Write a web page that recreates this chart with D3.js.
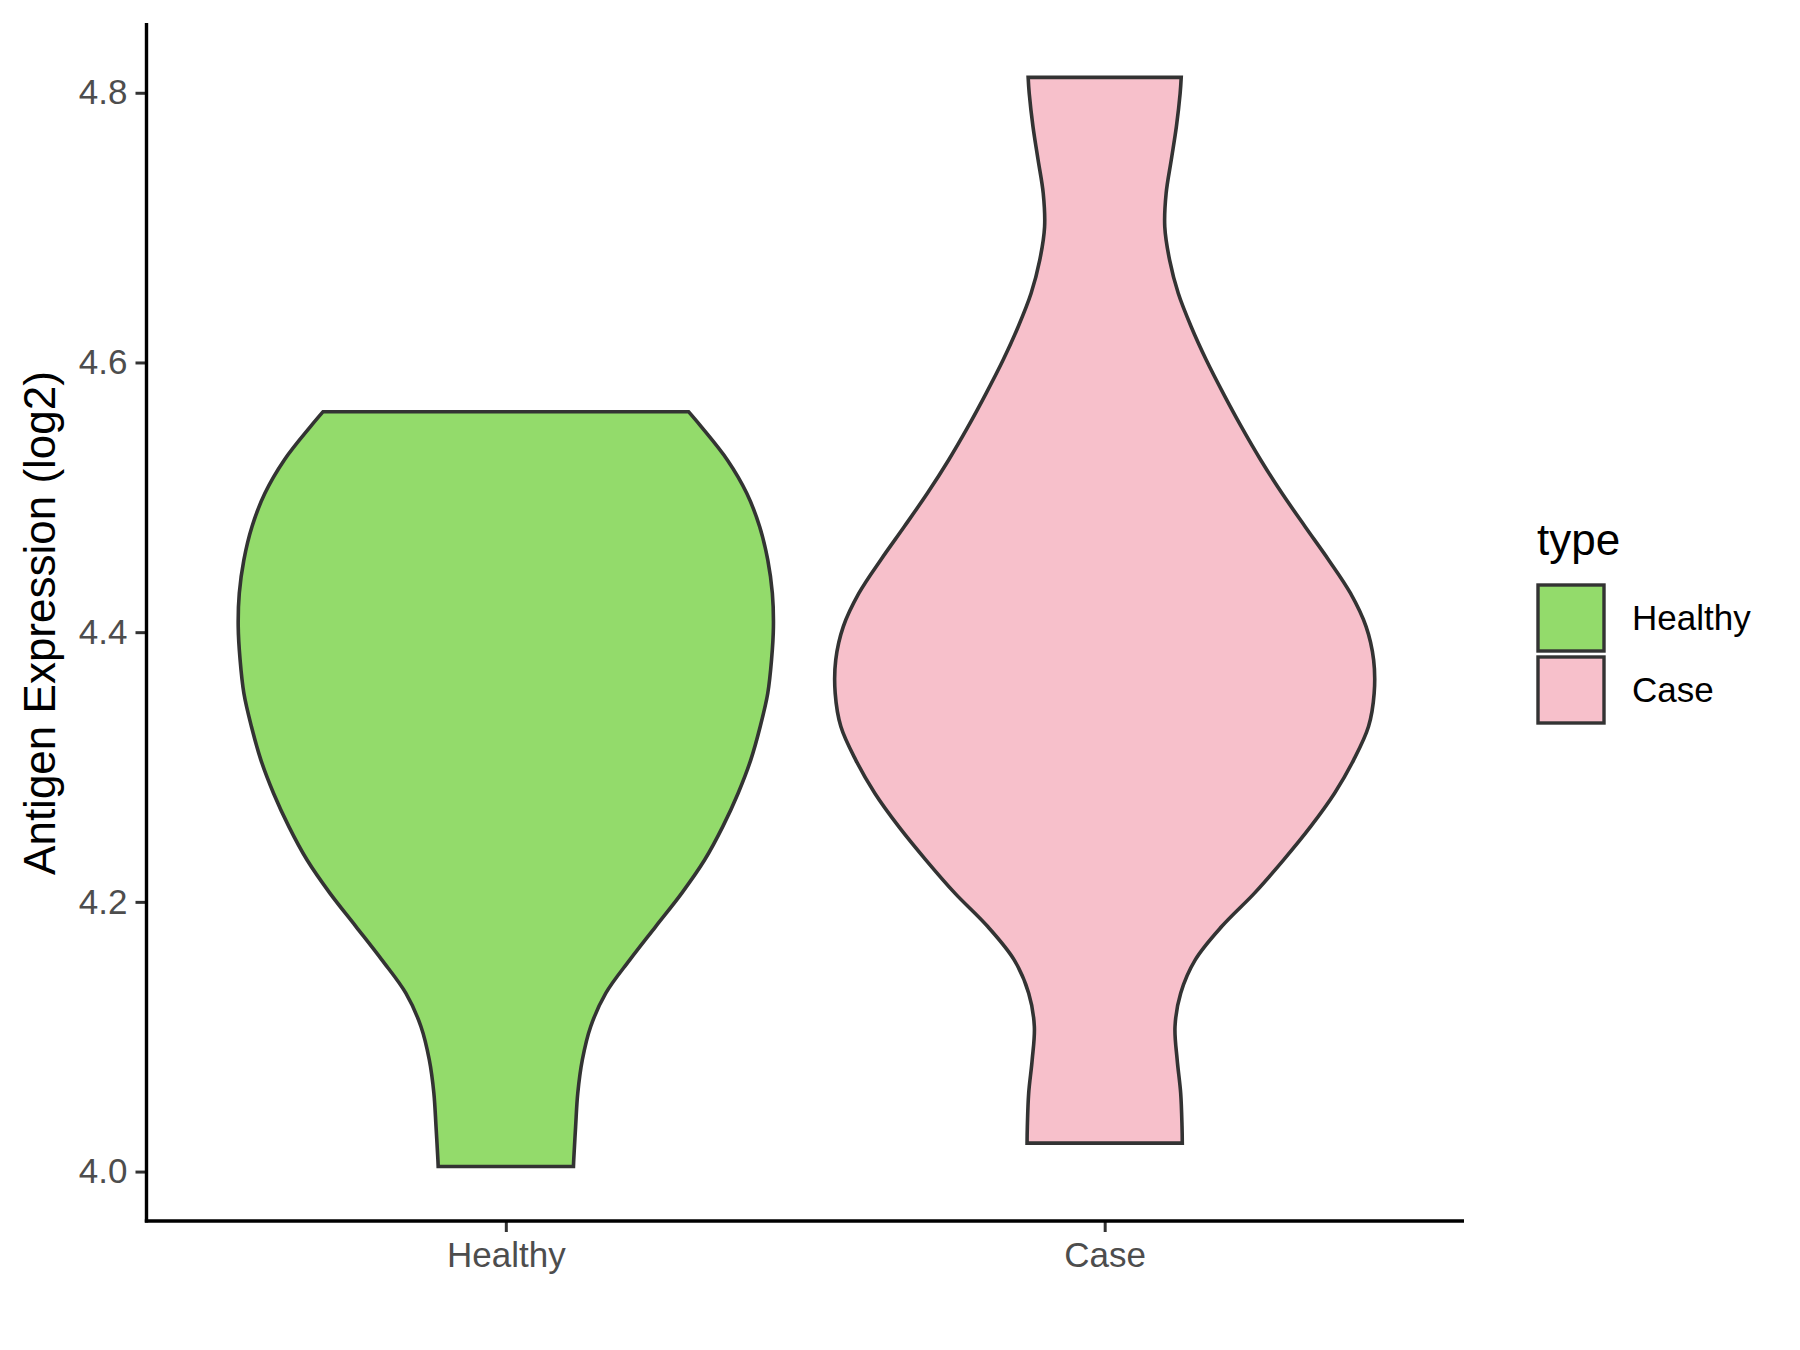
<!DOCTYPE html>
<html>
<head>
<meta charset="utf-8">
<script src="https://cdn.jsdelivr.net/npm/d3@7"></script>
<style>
  html, body { margin: 0; padding: 0; background: #ffffff; }
  svg { display: block; }
  text { font-family: "Liberation Sans", Arial, sans-serif; }
</style>
</head>
<body>
<svg id="chart" width="1800" height="1350"></svg>
<script>
// ---- Data ----
const categories = ["Healthy", "Case"];
const fillColors = ["#93DB6B", "#F7C0CB"];
const yTicks = [4.0, 4.2, 4.4, 4.6, 4.8];
const yTickLabels = ["4.0", "4.2", "4.4", "4.6", "4.8"];
const yLabel = "Antigen Expression (log2)";
const legendTitle = "type";

// Violin outline: expression values and relative density (max = 1)
const healthyValues  = [4.5635, 4.5524, 4.5277, 4.5030, 4.4782, 4.4536, 4.4289, 4.4041, 4.3794, 4.3547, 4.3300, 4.3053, 4.2806, 4.2558, 4.2312, 4.2065, 4.1817, 4.1570, 4.1323, 4.1076, 4.0829, 4.0582, 4.0334, 4.0087, 4.0038];
const healthyDensity = [0.678, 0.725, 0.822, 0.894, 0.942, 0.972, 0.989, 0.993, 0.986, 0.972, 0.944, 0.909, 0.862, 0.805, 0.738, 0.653, 0.556, 0.460, 0.371, 0.315, 0.284, 0.267, 0.259, 0.252, 0.251];

const caseValues  = [4.8114, 4.7995, 4.7748, 4.7501, 4.7254, 4.7006, 4.6759, 4.6513, 4.6265, 4.6018, 4.5771, 4.5524, 4.5277, 4.5030, 4.4782, 4.4536, 4.4289, 4.4041, 4.3794, 4.3547, 4.3300, 4.3053, 4.2806, 4.2558, 4.2312, 4.2065, 4.1817, 4.1570, 4.1323, 4.1076, 4.0829, 4.0582, 4.0334, 4.0211];
const caseDensity = [0.284, 0.280, 0.266, 0.247, 0.228, 0.223, 0.241, 0.273, 0.321, 0.377, 0.440, 0.507, 0.579, 0.658, 0.744, 0.831, 0.912, 0.970, 0.998, 1.000, 0.979, 0.924, 0.853, 0.764, 0.664, 0.556, 0.434, 0.336, 0.282, 0.261, 0.269, 0.282, 0.287, 0.288];

const valuesList = [healthyValues, caseValues];
const densityList = [healthyDensity, caseDensity];

// ---- Layout ----
const panel = { left: 146.5, right: 1464, top: 24, bottom: 1222 };
const svg = d3.select("#chart");

const x = d3.scalePoint().domain(categories).range([panel.left, panel.right]).padding(0.6);
const y = d3.scaleLinear().domain([3.9626, 4.851]).range([panel.bottom, panel.top]);
const w = d3.scaleLinear().domain([0, 1]).range([0, x.step() * 0.45]);

// ---- Violins ----
categories.forEach((cat, i) => {
  const pts = valuesList[i].map((v, j) => ({ v: v, d: densityList[i][j] }));
  const cx = x(cat);
  const area = d3.area()
    .y(p => y(p.v))
    .x0(p => cx - w(p.d))
    .x1(p => cx + w(p.d))
    .curve(d3.curveCatmullRom.alpha(0.5));
  svg.append("path")
    .datum(pts)
    .attr("d", area)
    .attr("fill", fillColors[i])
    .attr("stroke", "#333333")
    .attr("stroke-width", 3.6)
    .attr("stroke-linejoin", "miter");
});

// ---- Axes ----
const yAxis = d3.axisLeft(y).tickValues(yTicks).tickFormat((d, i) => yTickLabels[i]).tickSize(11).tickPadding(8);
const gy = svg.append("g").attr("transform", `translate(${panel.left},0)`).call(yAxis);
gy.select(".domain").remove();
gy.selectAll(".tick line").attr("stroke", "#333333").attr("stroke-width", 3);
gy.selectAll(".tick text").attr("fill", "#4D4D4D").style("font-size", "35px")
  .attr("font-family", "Liberation Sans, Arial, sans-serif");

const xAxis = d3.axisBottom(x).tickSize(11).tickPadding(10);
const gx = svg.append("g").attr("transform", `translate(0,${panel.bottom - 1})`).call(xAxis);
gx.select(".domain").remove();
gx.selectAll(".tick line").attr("stroke", "#333333").attr("stroke-width", 3);
gx.selectAll(".tick text").attr("fill", "#4D4D4D").style("font-size", "35px")
  .attr("font-family", "Liberation Sans, Arial, sans-serif");

// axis lines
svg.append("line").attr("x1", panel.left).attr("x2", panel.left)
  .attr("y1", panel.top - 1).attr("y2", panel.bottom + 0.5)
  .attr("stroke", "#000000").attr("stroke-width", 3.4);
svg.append("line").attr("x1", panel.left - 1.7).attr("x2", panel.right)
  .attr("y1", panel.bottom - 1).attr("y2", panel.bottom - 1)
  .attr("stroke", "#000000").attr("stroke-width", 3.4);

// y-axis title
svg.append("text")
  .attr("transform", `translate(55,${(panel.top + panel.bottom) / 2}) rotate(-90)`)
  .attr("text-anchor", "middle")
  .attr("fill", "#000000")
  .style("font-size", "44px")
  .text(yLabel);

// ---- Legend ----
const lg = svg.append("g");
lg.append("text").attr("x", 1537).attr("y", 555).attr("fill", "#000").style("font-size", "44px").text(legendTitle);
categories.forEach((cat, i) => {
  const ky = 585 + i * 72;
  lg.append("rect").attr("x", 1538).attr("y", ky).attr("width", 66).attr("height", 66)
    .attr("fill", fillColors[i]).attr("stroke", "#333333").attr("stroke-width", 3.4);
  lg.append("text").attr("x", 1632).attr("y", ky + 45).attr("fill", "#000")
    .style("font-size", "35px").text(cat);
});
</script>
</body>
</html>
